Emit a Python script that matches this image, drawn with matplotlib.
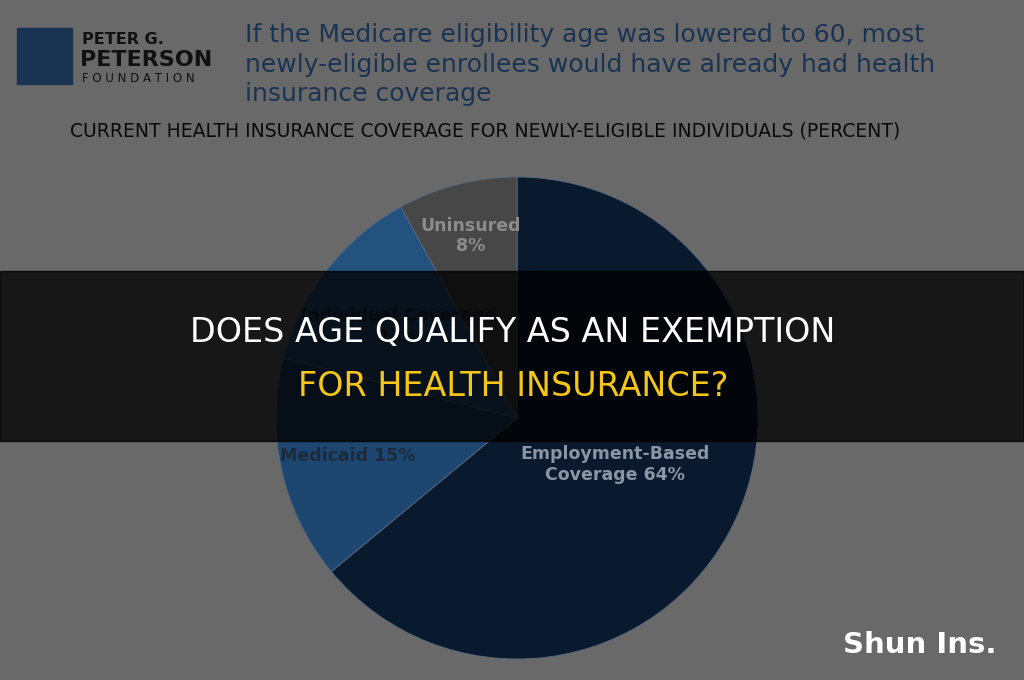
import matplotlib
matplotlib.use("Agg")
import numpy as np
import matplotlib.pyplot as plt
from matplotlib.patches import Rectangle

labels = ["Employment-Based\nCoverage 64%", "Medicaid 15%", "Individual Coverage\n13%", "Uninsured\n8%"]
values = [64, 15, 13, 8]
colors = ["#0a1a2e", "#1d4670", "#24527f", "#474747"]
label_colors = ["#8a96a6", "#1c2a3c", "#1c2a3c", "#8c8c8c"]
label_dist = [0.45, 0.72, 0.62, 0.78]

W, H = 1024, 680
fig = plt.figure(figsize=(W/100, H/100), dpi=100, facecolor="#696969")
bg = fig.add_axes([0, 0, 1, 1])
bg.set_xlim(0, W); bg.set_ylim(H, 0); bg.axis("off")

# logo
bg.add_patch(Rectangle((17, 28), 55, 56, color="#1a3352"))
bg.text(82, 40, "PETER G.", fontsize=11.5, color="#111", va="center", weight="bold")
bg.text(80, 60, "PETERSON", fontsize=16, color="#111", va="center", weight="bold")
bg.text(82, 79, "F O U N D A T I O N", fontsize=8.5, color="#111", va="center")
bg.text(245, 23, "If the Medicare eligibility age was lowered to 60, most\nnewly-eligible enrollees would have already had health\ninsurance coverage",
        fontsize=18, color="#1a3352", va="top", linespacing=1.3)
bg.text(70, 131, "CURRENT HEALTH INSURANCE COVERAGE FOR NEWLY-ELIGIBLE INDIVIDUALS (PERCENT)",
        fontsize=13.5, color="#0a0a0a", va="center")

cx, cy, r = 517, 418, 241
pax = fig.add_axes([(cx - r)/W, 1 - (cy + r)/H, 2*r/W, 2*r/H])
wedges, texts = pax.pie(values, colors=colors, startangle=90, counterclock=False,
                        wedgeprops=dict(edgecolor="#5a6a80", linewidth=0.6),
                        labels=labels, labeldistance=0.55,
                        textprops=dict(fontsize=12.5, ha="center", va="center", weight="bold"))
for w, t, c, d in zip(wedges, texts, label_colors, label_dist):
    ang = np.deg2rad((w.theta1 + w.theta2) / 2)
    t.set_position((d * np.cos(ang), d * np.sin(ang)))
    t.set_color(c)
pax.set_xlim(-1, 1); pax.set_ylim(-1, 1); pax.set_aspect("equal")
pax.axis("off")

top = fig.add_axes([0, 0, 1, 1]); top.set_xlim(0, W); top.set_ylim(H, 0); top.axis("off")
top.add_patch(Rectangle((0, 271), W, 170, color="black", alpha=0.78))
top.text(513, 333, "DOES AGE QUALIFY AS AN EXEMPTION", fontsize=24, color="white", ha="center", va="center")
top.text(513, 386, "FOR HEALTH INSURANCE?", fontsize=24, color="#f5c518", ha="center", va="center")
top.text(920, 645, "Shun Ins.", fontsize=21, color="white", ha="center", va="center", weight="bold")

fig.savefig("out.png", dpi=100, facecolor=fig.get_facecolor())
